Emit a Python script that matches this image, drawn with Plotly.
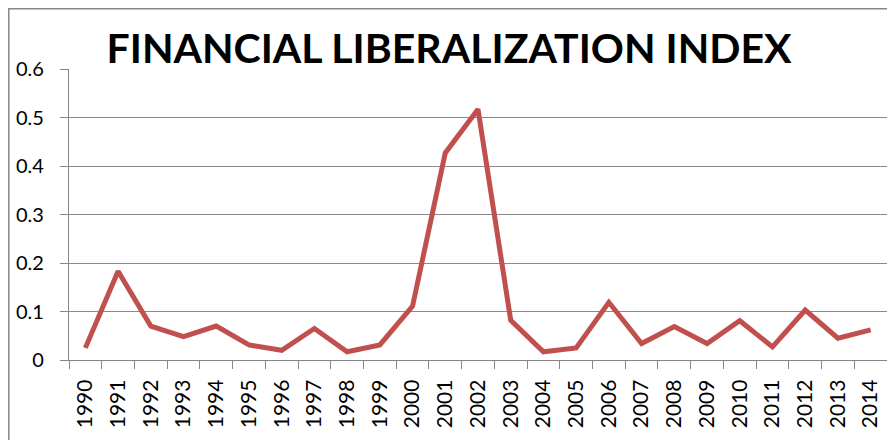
import plotly.graph_objects as go

years = [str(y) for y in range(1990, 2015)]
index_values = [0.025, 0.183, 0.070, 0.048, 0.070, 0.031, 0.020, 0.065, 0.017, 0.031,
                0.111, 0.427, 0.517, 0.082, 0.017, 0.025, 0.119, 0.034, 0.069, 0.034,
                0.081, 0.027, 0.103, 0.045, 0.062]
y_ticks = [0, 0.1, 0.2, 0.3, 0.4, 0.5, 0.6]
y_tick_labels = ["0", "0.1", "0.2", "0.3", "0.4", "0.5", "0.6"]

# the page body has an 8px default margin, so the figure is drawn offset by 8px
OFF = 8
W, H = 895 - OFF, 440 - OFF
L, R, T, B = 69 - OFF, 8, 69 - OFF, 80
pw, ph = W - L - R, H - T - B

fig = go.Figure()
fig.add_trace(go.Scatter(
    x=years, y=index_values, mode="lines",
    line=dict(color="#C0504D", width=5),
    showlegend=False, hoverinfo="x+y",
))

def px2paper_x(px):
    return (px - OFF - L) / pw

def px2paper_y(py):
    return (H - B - (py - OFF)) / ph

fig.update_layout(
    width=W, height=H,
    margin=dict(l=L, r=R, t=T, b=B),
    paper_bgcolor="white", plot_bgcolor="white",
    font=dict(family="Lato, Liberation Sans, sans-serif", color="black"),
    title=dict(
        text="<b>FINANCIAL LIBERALIZATION INDEX</b>",
        x=(449 - OFF) / W, xref="container", xanchor="center",
        y=1 - (49 - OFF) / H, yref="container", yanchor="middle",
        font=dict(family="Lato, Liberation Sans, sans-serif", size=41, color="black"),
    ),
    xaxis=dict(
        type="category", tickson="boundaries", tickangle=-90,
        range=[-0.5, len(years) - 0.5], automargin=False,
        ticks="outside", ticklen=8, tickcolor="#868686", tickwidth=1.3,
        showline=True, linecolor="#868686", linewidth=1.3,
        showgrid=False, tickfont=dict(size=21),
        ticklabelstandoff=10,
    ),
    yaxis=dict(
        range=[0, 0.6], tickvals=y_ticks, ticktext=y_tick_labels,
        automargin=False,
        ticks="outside", ticklen=8, tickcolor="#868686", tickwidth=1.3,
        showline=True, linecolor="#868686", linewidth=1.3,
        showgrid=True, gridcolor="#8a8a8a", gridwidth=1.3,
        zeroline=False, tickfont=dict(size=20),
        ticklabelstandoff=12,
    ),
    shapes=[dict(
        type="rect", xref="paper", yref="paper",
        x0=px2paper_x(8.8), x1=px2paper_x(890),
        y0=px2paper_y(470), y1=px2paper_y(8.8),
        line=dict(color="#868686", width=1.5), fillcolor="rgba(0,0,0,0)",
        layer="below",
    )],
)

fig.write_html("out.html")
